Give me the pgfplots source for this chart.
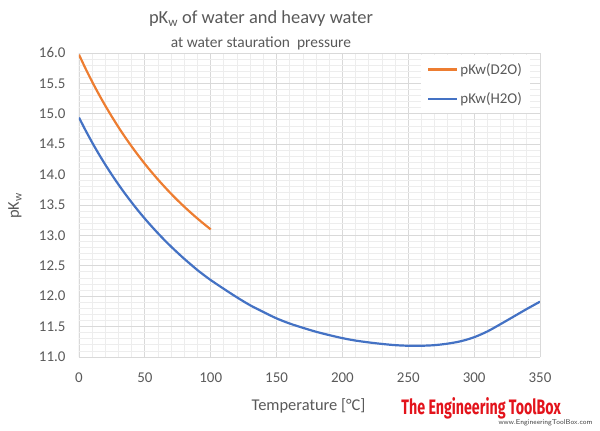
\documentclass[border=0pt]{standalone}
\usepackage{pgfplots}
\pgfplotsset{compat=1.18}
\usepackage{fontspec}
\setmainfont{Carlito}
\newfontfamily\wmfont{Fira Sans}
\definecolor{txtgrey}{HTML}{595959}
\definecolor{majgrid}{HTML}{D9D9D9}
\definecolor{mingrid}{HTML}{EDEDED}
\definecolor{axgrey}{HTML}{BFBFBF}
\definecolor{xlorange}{HTML}{ED7D31}
\definecolor{xlblue}{HTML}{4472C4}
\definecolor{etbred}{HTML}{E3131B}
\begin{document}
\begin{tikzpicture}
\useasboundingbox (-79bp,-74bp) rectangle (521bp,357bp);
\begin{axis}[
  at={(0,0)}, anchor=south west,
  scale only axis, width=461bp, height=304bp,
  xmin=0, xmax=350, ymin=11, ymax=16,
  xtick={0,50,...,350}, ytick={11,11.5,...,16},
  minor x tick num=4, minor y tick num=4,
  grid=both,
  major grid style={majgrid, line width=0.8bp},
  minor grid style={mingrid, line width=0.8bp},
  axis line style={draw=none},
  tick style={draw=none},
  /pgf/number format/assume math mode=true,
  yticklabel style={/pgf/number format/fixed, /pgf/number format/fixed zerofill, /pgf/number format/precision=1, xshift=-10bp},
  ticklabel style={font=\fontsize{15}{18}\selectfont, text=txtgrey},
  xticklabel style={yshift=-12bp},
  xlabel={Temperature [°C]},
  label style={font=\fontsize{16.5}{19}\selectfont, text=txtgrey},
  xlabel style={at={(rel axis cs:0.498,0)}, anchor=center, yshift=-49bp},
  legend style={at={(rel axis cs:0.742,0.993)}, anchor=north west, draw=none, fill=white,
    font=\fontsize{15}{18}\selectfont, text=txtgrey, row sep=13bp,
    inner xsep=6bp, inner ysep=6bp},
  legend cell align=left,
  legend image code/.code={\draw[#1] (0bp,0bp) -- (29bp,0bp);},
]
\draw[axgrey, line width=1bp] (rel axis cs:0,1) -- (rel axis cs:0,0) -- (rel axis cs:1,0);
\addplot[xlorange, line width=2.2bp, smooth] coordinates {
(0,15.972) (5,15.743) (10,15.527) (15,15.324) (20,15.132) (25,14.951)
(30,14.779) (35,14.616) (40,14.462) (45,14.316) (50,14.176) (55,14.044)
(60,13.918) (65,13.798) (70,13.683) (75,13.574) (80,13.470) (85,13.371)
(90,13.276) (95,13.186) (100,13.099)};
\addlegendentry{pKw(D2O)}
\addplot[xlblue, line width=2.2bp, smooth] coordinates {
(0,14.938) (5,14.727) (10,14.528) (15,14.340) (20,14.163) (25,13.995)
(30,13.836) (35,13.685) (40,13.542) (45,13.405) (50,13.275) (55,13.152)
(60,13.034) (65,12.921) (70,12.814) (75,12.712) (80,12.613) (85,12.520)
(90,12.428) (95,12.345) (100,12.265) (110,12.12) (120,11.98) (130,11.85)
(140,11.74) (150,11.635) (160,11.55) (170,11.48) (180,11.415) (190,11.36)
(200,11.31) (210,11.27) (220,11.24) (230,11.215) (240,11.195) (250,11.185)
(260,11.185) (270,11.195) (280,11.22) (290,11.26) (300,11.325) (310,11.42)
(320,11.54) (330,11.665) (340,11.79) (350,11.91)};
\addlegendentry{pKw(H2O)}
\end{axis}
\node[font=\fontsize{16.5}{19}\selectfont, text=txtgrey, rotate=90] at (-64bp,151bp) {pK\textsubscript{w}};
\node[font=\fontsize{18.5}{22}\selectfont, text=txtgrey] at (182bp,338bp) {pK\textsubscript{w} of water and heavy water};
\node[font=\fontsize{15.5}{18}\selectfont, text=txtgrey] at (182bp,314bp) {at water stauration\ \ pressure};
\node[font=\wmfont\bfseries\fontsize{21}{24}\selectfont, text=etbred, xscale=0.68, anchor=west] at (320bp,-51bp) {The Engineering ToolBox};
\node[font=\fontsize{7}{8}\selectfont\sffamily, text=black!75, anchor=east] at (517bp,-66bp) {www.EngineeringToolBox.com};
\end{tikzpicture}
\end{document}
